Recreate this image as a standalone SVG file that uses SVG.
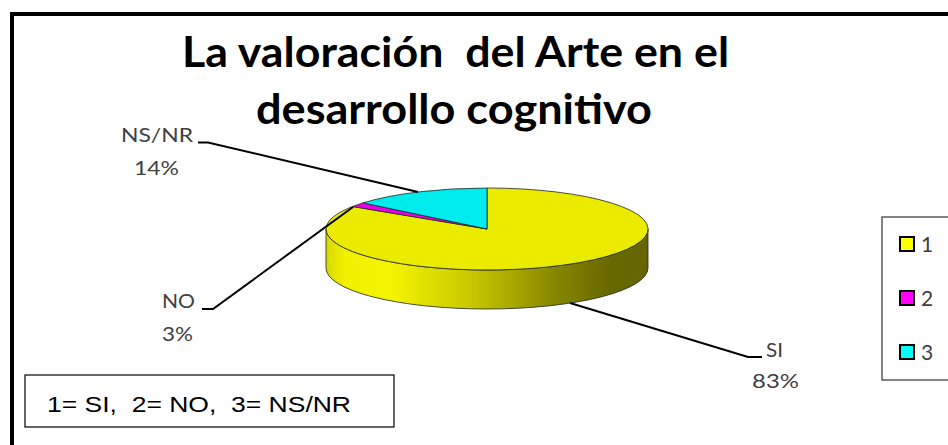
<svg xmlns="http://www.w3.org/2000/svg" width="948" height="445" viewBox="0 0 948 445">
  <style>
    .title { font-family: Lato, "Open Sans", "Liberation Sans", sans-serif; font-weight: bold; font-size: 42px; fill: #000; }
    .lbl { font-family: Lato, "Open Sans", "Liberation Sans", sans-serif; font-size: 20px; fill: #404040; }
    .leg { font-family: Lato, "Open Sans", "Liberation Sans", sans-serif; font-size: 21px; fill: #404040; }
    .note { font-family: "Liberation Sans", Arial, sans-serif; font-size: 22px; fill: #000; }
    .edge { stroke: #222; stroke-width: 0.8; stroke-linejoin: round; }
    .lead { fill: none; stroke: #000; stroke-width: 2; }
    .sw { stroke: #000; stroke-width: 2; }
  </style>
  <defs>
    <linearGradient id="side" gradientUnits="userSpaceOnUse" x1="326" y1="0" x2="648" y2="0">
      <stop offset="0" stop-color="#d8d800"/>
      <stop offset="0.06" stop-color="#f2f200"/>
      <stop offset="0.2" stop-color="#f4f400"/>
      <stop offset="0.45" stop-color="#c8c800"/>
      <stop offset="0.72" stop-color="#858500"/>
      <stop offset="0.88" stop-color="#686800"/>
      <stop offset="1" stop-color="#666600"/>
    </linearGradient>
  </defs>

  <rect x="0" y="0" width="948" height="445" fill="#fff"/>
  <rect id="frame" x="12" y="14" width="960" height="460" fill="#fff" stroke="#000" stroke-width="4"/>

  <g id="title">
    <text class="title" x="182" y="67" textLength="547" lengthAdjust="spacingAndGlyphs" xml:space="preserve">La valoración  del Arte en el</text>
    <text class="title" x="256" y="124" textLength="396" lengthAdjust="spacingAndGlyphs">desarrollo cognitivo</text>
  </g>

  <g id="pie">
    <path id="pie-side" class="edge" fill="url(#side)" d="M326,229 A161,41 0 0 0 648,229 L648,268 A161,41 0 0 1 326,268 Z"/>
    <path id="slice-si" class="edge" fill="#ebeb00" d="M487,229 L487,188 A161,41 0 1 1 352.5,206.5 Z"/>
    <path id="slice-no" class="edge" fill="#eb00eb" d="M487,229 L352.5,206.5 A161,41 0 0 1 363,202.9 Z"/>
    <path id="slice-nsnr" class="edge" fill="#00ebeb" d="M487,229 L363,202.9 A161,41 0 0 1 487,188 Z"/>
  </g>

  <g id="connectors">
    <polyline class="lead" points="198,142.5 208,142.5 418,192"/>
    <polyline class="lead" points="202,309 213,309 353,207"/>
    <polyline class="lead" points="570,303 748,357 762,357"/>
  </g>

  <g id="label-nsnr">
    <text class="lbl" x="121" y="142" textLength="72" lengthAdjust="spacingAndGlyphs">NS/NR</text>
    <text class="lbl" x="134" y="175" textLength="45" lengthAdjust="spacingAndGlyphs">14%</text>
  </g>
  <g id="label-no">
    <text class="lbl" x="162" y="308" textLength="33" lengthAdjust="spacingAndGlyphs">NO</text>
    <text class="lbl" x="162" y="341" textLength="31" lengthAdjust="spacingAndGlyphs">3%</text>
  </g>
  <g id="label-si">
    <text class="lbl" x="766" y="357" textLength="17" lengthAdjust="spacingAndGlyphs">SI</text>
    <text class="lbl" x="752" y="388" textLength="47" lengthAdjust="spacingAndGlyphs">83%</text>
  </g>

  <g id="legend">
    <rect x="882" y="217" width="100" height="163" fill="#fff" stroke="#333" stroke-width="1.2"/>
    <rect class="sw" x="900" y="237" width="14" height="14" fill="#ffff00"/>
    <text class="leg" x="921" y="252">1</text>
    <rect class="sw" x="900" y="291" width="14" height="14" fill="#ff00ff"/>
    <text class="leg" x="921" y="306">2</text>
    <rect class="sw" x="900" y="345" width="14" height="14" fill="#00ffff"/>
    <text class="leg" x="921" y="360">3</text>
  </g>

  <g id="note">
    <rect x="25" y="375" width="369" height="52" fill="#fff" stroke="#000" stroke-width="1.2"/>
    <text class="note" x="47" y="412" textLength="304" lengthAdjust="spacingAndGlyphs" xml:space="preserve">1= SI,  2= NO,  3= NS/NR</text>
  </g>
</svg>
